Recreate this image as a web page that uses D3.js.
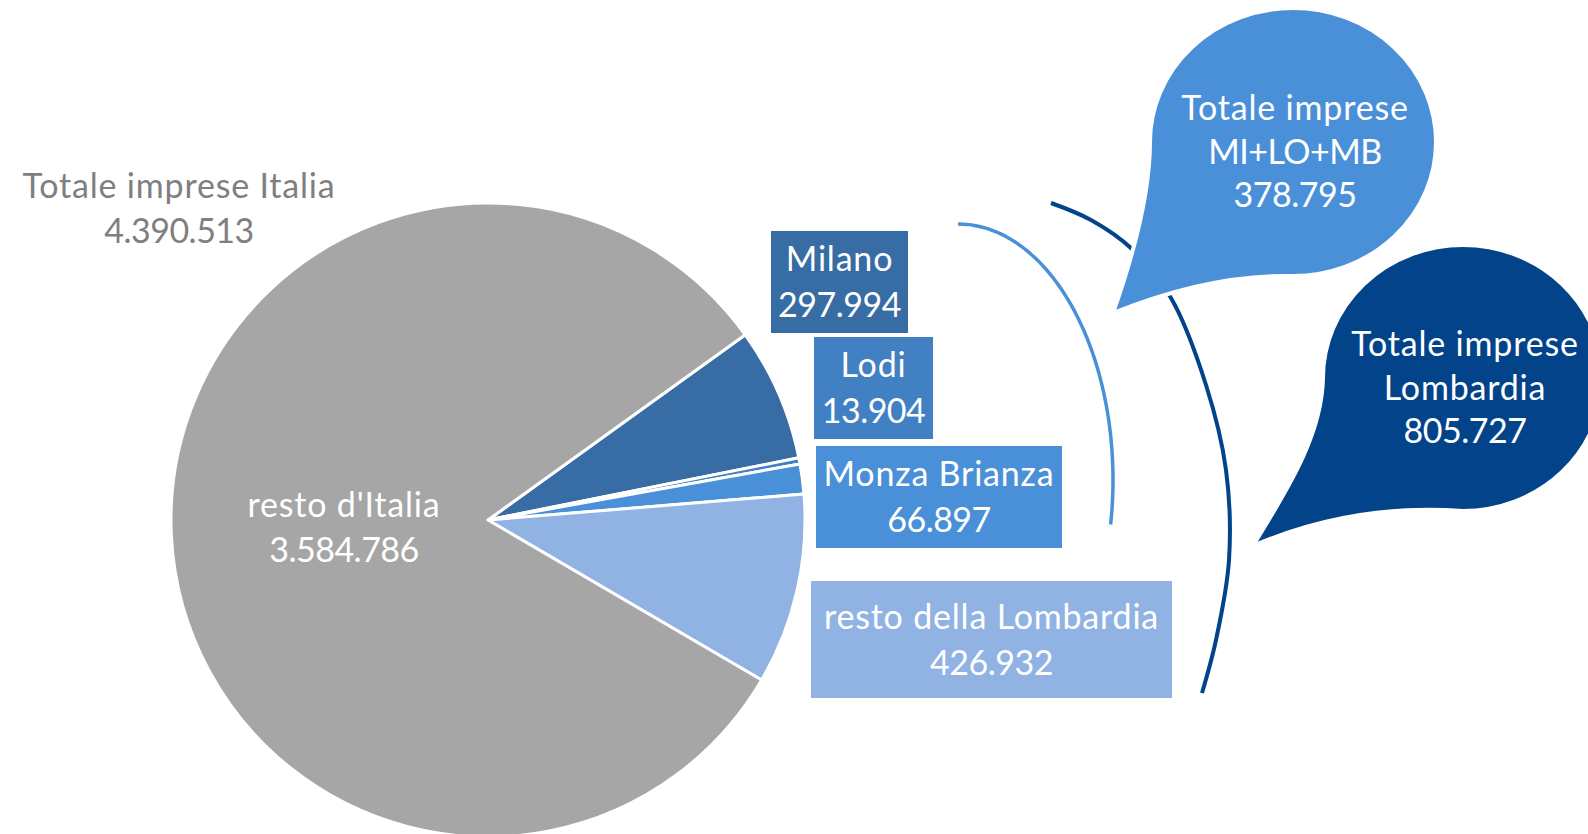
<!DOCTYPE html>
<meta charset="utf-8">
<script src="https://d3js.org/d3.v7.min.js"></script>
<style>
  body { margin: 0; background: #fff; }
  text { font-family: Lato, "Noto Sans", sans-serif; }
</style>
<div id="chart"></div>
<script>
// --- data ---
var categories = ["Milano", "Lodi", "Monza Brianza", "resto della Lombardia", "resto d'Italia"];
var values = [297994, 13904, 66897, 426932, 3584786];
var sliceColors = ["#386ca4", "#4280c4", "#4a90d9", "#90b3e3", "#a6a6a6"];

// which slices make up each group
var groupMiLoMb = ["Milano", "Lodi", "Monza Brianza"];
var groupLombardia = ["Milano", "Lodi", "Monza Brianza", "resto della Lombardia"];

// --- layout ---
var width = 1588, height = 834;
var cx = 488, cy = 520, radius = 317;
var startDeg = 54.25;
var fontSize = 34;

// label boxes for lombard slices [x, y, w, h]
var labelBoxes = [[771, 231, 137, 102], [814, 337, 119, 102], [816, 446, 246, 102], [811, 581, 361, 117]];

var it = d3.formatLocale({decimal: ",", thousands: ".", grouping: [3], currency: ["€", ""]});
var fmt = it.format(",d");

var svg = d3.select("#chart").append("svg")
  .attr("width", width)
  .attr("height", height);

var data = categories.map(function(c, i) { return {name: c, value: values[i], color: sliceColors[i]}; });

var pie = d3.pie()
  .sort(null)
  .value(function(d) { return d.value; })
  .startAngle(startDeg * Math.PI / 180)
  .endAngle(startDeg * Math.PI / 180 + 2 * Math.PI);

var arc = d3.arc().innerRadius(0).outerRadius(radius);

var g = svg.append("g").attr("transform", "translate(" + cx + "," + cy + ")");
g.selectAll("path")
  .data(pie(data))
  .enter().append("path")
  .attr("d", arc)
  .attr("fill", function(d) { return d.data.color; })
  .attr("stroke", "#fff")
  .attr("stroke-width", 3)
  .attr("stroke-linejoin", "round");

// multi-line centred text; lowercase lines a bit wider, caps/number lines a bit tighter
function lines(sel, x, y, rows, color, step) {
  var t = sel.append("text")
    .attr("text-anchor", "middle")
    .attr("font-size", fontSize)
    .attr("fill", color);
  rows.forEach(function(l, i) {
    var tight = !/[a-z]/.test(l);
    t.append("tspan")
      .attr("x", x).attr("y", y + i * step)
      .attr("letter-spacing", tight ? -0.5 : 0.8)
      .text(l);
  });
  return t;
}

var total = d3.sum(values);
lines(svg, 179, 198, ["Totale imprese Italia", fmt(total)], "#7f7f7f", 45);

// resto d'Italia inside the pie
lines(svg, 344, 517, [categories[4], fmt(values[4])], "#fff", 45);

// boxed labels
labelBoxes.forEach(function(b, i) {
  svg.append("rect")
    .attr("x", b[0]).attr("y", b[1])
    .attr("width", b[2]).attr("height", b[3])
    .attr("fill", sliceColors[i]);
  lines(svg, b[0] + b[2] / 2, b[1] + b[3] / 2 - 11, [categories[i], fmt(values[i])], "#fff", 46);
});

// brackets
var light = "#4a90d9", dark = "#02438a";
var ell = {cx: 958, cy: 480, rx: 155, ry: 256};
var ellPts = d3.range(-90, 12, 2).map(function(a) {
  var r = a * Math.PI / 180;
  return [ell.cx + ell.rx * Math.cos(r), ell.cy + ell.ry * Math.sin(r)];
});
svg.append("path")
  .attr("d", d3.line().curve(d3.curveCatmullRom)(ellPts))
  .attr("fill", "none").attr("stroke", light).attr("stroke-width", 3.5);

var darkPts = [[1051, 203], [1091, 220], [1132, 249], [1171, 298], [1206, 385], [1226, 470],
  [1229, 560], [1216, 640], [1202, 693]];
svg.append("path")
  .attr("d", d3.line().curve(d3.curveCatmullRom.alpha(0.5))(darkPts))
  .attr("fill", "none").attr("stroke", dark).attr("stroke-width", 4);

// callout bubbles
function bubble(b) {
  var left = [b.cx - b.rx, b.cy], bottom = [b.cx, b.cy + b.ry];
  var d = "M" + b.tip + " C" + b.c1 + " " + b.c2 + " " + left +
    " A" + b.rx + " " + b.ry + " 0 1 1 " + bottom +
    " Q" + b.q + " " + b.tip + "Z";
  svg.append("path")
    .attr("d", d)
    .attr("fill", b.color)
    .attr("stroke", "#fff")
    .attr("stroke-width", 4);
  lines(svg, b.cx + 2, b.cy - 22, b.rows, "#fff", 43.5);
}

var sumOf = function(names) {
  return d3.sum(data.filter(function(d) { return names.indexOf(d.name) >= 0; }), function(d) { return d.value; });
};

bubble({cx: 1293, cy: 142, rx: 143, ry: 134, tip: [1113, 313], c1: [1130, 265], c2: [1150, 200], q: [1210, 274],
  color: light, rows: ["Totale imprese", "MI+LO+MB", fmt(sumOf(groupMiLoMb))]});
bubble({cx: 1463, cy: 378, rx: 140, ry: 133, tip: [1253, 546], c1: [1280, 500], c2: [1322, 440], q: [1352, 503],
  color: dark, rows: ["Totale imprese", "Lombardia", fmt(sumOf(groupLombardia))]});
</script>
